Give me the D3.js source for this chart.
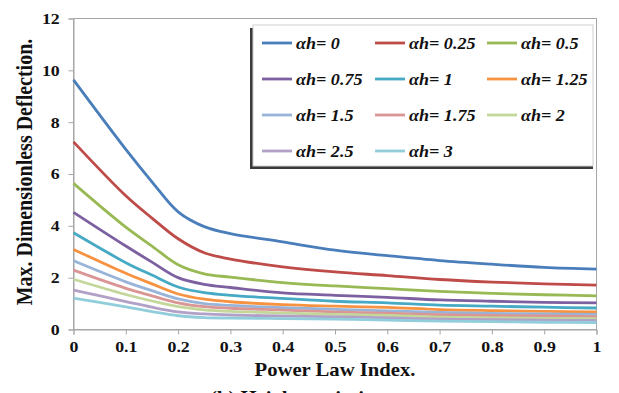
<!DOCTYPE html>
<html>
<head>
<meta charset="utf-8">
<script src="https://d3js.org/d3.v7.min.js"></script>
<style>
body {margin: 0; background: #fff;}
text {font-family: "Liberation Serif", "Times New Roman", serif; font-weight: bold;}
</style>
</head>
<body>
<svg id="chart" width="619" height="393"></svg>
<script>
// power law index
var xValues = [0, 0.1, 0.15, 0.2, 0.25, 0.3, 0.4, 0.5, 0.6, 0.7, 0.8, 0.9, 1];
// one series per alpha*h
var seriesNames = ["0", "0.25", "0.5", "0.75", "1", "1.25", "1.5", "1.75", "2", "2.5", "3"];
var ah0    = [9.63, 6.95, 5.70, 4.54, 3.97, 3.70, 3.38, 3.06, 2.85, 2.66, 2.52, 2.40, 2.33];
var ah025  = [7.24, 5.16, 4.30, 3.50, 2.96, 2.72, 2.42, 2.22, 2.08, 1.93, 1.83, 1.76, 1.71];
var ah05   = [5.64, 3.95, 3.22, 2.50, 2.15, 2.02, 1.81, 1.68, 1.58, 1.47, 1.39, 1.34, 1.30];
var ah075  = [4.52, 3.22, 2.60, 2.00, 1.74, 1.62, 1.41, 1.32, 1.24, 1.14, 1.09, 1.05, 1.03];
var ah1    = [3.73, 2.58, 2.10, 1.64, 1.42, 1.32, 1.20, 1.09, 1.03, 0.94, 0.90, 0.86, 0.83];
var ah125  = [3.09, 2.17, 1.76, 1.37, 1.17, 1.07, 0.96, 0.90, 0.85, 0.77, 0.73, 0.70, 0.68];
var ah15   = [2.65, 1.84, 1.50, 1.18, 1.00, 0.93, 0.84, 0.78, 0.72, 0.66, 0.62, 0.60, 0.58];
var ah175  = [2.29, 1.59, 1.30, 1.03, 0.88, 0.82, 0.75, 0.68, 0.63, 0.57, 0.54, 0.52, 0.50];
var ah2    = [1.94, 1.35, 1.10, 0.88, 0.76, 0.70, 0.64, 0.58, 0.54, 0.48, 0.45, 0.43, 0.42];
var ah25   = [1.52, 1.08, 0.86, 0.68, 0.60, 0.56, 0.52, 0.49, 0.45, 0.40, 0.38, 0.36, 0.35];
var ah3    = [1.21, 0.87, 0.69, 0.53, 0.46, 0.44, 0.42, 0.40, 0.36, 0.32, 0.30, 0.28, 0.27];
var seriesValues = [ah0, ah025, ah05, ah075, ah1, ah125, ah15, ah175, ah2, ah25, ah3];
var xTicks = [0, 0.1, 0.2, 0.3, 0.4, 0.5, 0.6, 0.7, 0.8, 0.9, 1];
var yTicks = [0, 2, 4, 6, 8, 10, 12];

var colors = ["#4A7EBB", "#BE4B48", "#98B954", "#7D60A0", "#46AAC5", "#F69240",
              "#98B4D9", "#DA9694", "#C4D79B", "#B2A1C7", "#92CDDC"];

var svg = d3.select("#chart");
var pLeft = 73.5, pRight = 596.5, pTop = 18.5, pBottom = 329.5;
var stretch = 1.15; // the original picture is a bit wider than tall

var x = d3.scaleLinear().domain([0, 1]).range([pLeft, pRight]);
var y = d3.scaleLinear().domain([0, 12]).range([pBottom, pTop]);

//plot frame
svg.append("rect")
    .attr("x", pLeft).attr("y", pTop)
    .attr("width", pRight - pLeft).attr("height", pBottom - pTop)
    .attr("fill", "none").attr("stroke", "#a6a6a6").attr("stroke-width", 1);

//axes
var yAxis = svg.append("g")
    .attr("transform", "translate(" + pLeft + ",0)")
    .call(d3.axisLeft(y).tickValues(yTicks).tickSize(5).tickPadding(7).tickFormat(d3.format("d")));
var xAxis = svg.append("g")
    .attr("transform", "translate(0," + pBottom + ")")
    .call(d3.axisBottom(x).tickValues(xTicks).tickSize(5).tickPadding(7).tickFormat(function(d) {return d === 0 || d === 1 ? d : d3.format(".1f")(d);}));
[xAxis, yAxis].forEach(function(a) {
    a.select(".domain").attr("stroke", "#a6a6a6");
    a.selectAll(".tick line").attr("stroke", "#a6a6a6");
    a.selectAll(".tick text")
        .style("font-size", "15.5px")
        .attr("fill", "#111")
        .attr("transform", "scale(" + stretch + ",1)");
});

//curves
var line = d3.line()
    .x(function(d) {return x(d[0]);})
    .y(function(d) {return y(d[1]);})
    .curve(d3.curveCatmullRom.alpha(0.5));
seriesValues.forEach(function(vals, i) {
    svg.append("path")
        .datum(xValues.map(function(xv, j) {return [xv, vals[j]];}))
        .attr("d", line)
        .attr("fill", "none")
        .attr("stroke", colors[i])
        .attr("stroke-width", 2.8);
});

//axis titles
svg.append("text")
    .attr("transform", "translate(32,172) rotate(-90) scale(1," + stretch + ")")
    .attr("text-anchor", "middle")
    .style("font-size", "20px")
    .attr("fill", "#111")
    .text("Max. Dimensionless Deflection.");
svg.append("text")
    .attr("transform", "translate(335,376) scale(" + stretch + ",1)")
    .attr("text-anchor", "middle")
    .style("font-size", "18px")
    .attr("fill", "#111")
    .text("Power Law Index.");
svg.append("text")
    .attr("transform", "translate(210,404) scale(" + stretch + ",1)")
    .style("font-size", "18px")
    .attr("fill", "#111")
    .text("(b) Height variation");

//legend
var lg = svg.append("g");
lg.append("rect")
    .attr("x", 250).attr("y", 28).attr("width", 343).attr("height", 141)
    .attr("fill", "#3a3a3a");
lg.append("rect")
    .attr("x", 253).attr("y", 25).attr("width", 340).attr("height", 141)
    .attr("fill", "#fff").attr("stroke", "#d0d0d0").attr("stroke-width", 1);
var colX = [262, 375, 487];
var rowY = [43, 79, 115, 151];
seriesNames.forEach(function(name, i) {
    var cx = colX[i % 3], cy = rowY[Math.floor(i / 3)];
    lg.append("line")
        .attr("x1", cx).attr("x2", cx + 30)
        .attr("y1", cy).attr("y2", cy)
        .attr("stroke", colors[i]).attr("stroke-width", 2.8);
    lg.append("text")
        .attr("transform", "translate(" + (cx + 34) + "," + cy + ") scale(1.13,1)")
        .attr("dy", "0.35em")
        .style("font-size", "16px")
        .style("font-style", "italic")
        .attr("fill", "#111")
        .text("\u03b1h= " + name);
});
</script>
</body>
</html>
